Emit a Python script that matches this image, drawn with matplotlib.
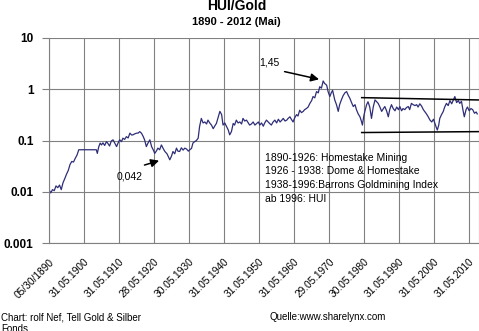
import numpy as np
import matplotlib.pyplot as plt

# HUI/Gold ratio (year, ratio)
years = [1890.0, 1890.5, 1891.0, 1891.5, 1892.0, 1892.5, 1893.0, 1893.5, 1894.0, 1894.5,
         1895.0, 1895.5, 1896.0, 1896.5, 1897.0, 1897.5, 1898.0, 1898.5, 1903.5, 1903.8,
         1904.2, 1904.6, 1905.0, 1905.4, 1905.9, 1906.4, 1906.8, 1907.3, 1907.8, 1908.3,
         1908.8, 1909.3, 1909.8, 1910.2, 1910.7, 1911.1, 1911.6, 1912.1, 1912.6, 1913.1,
         1913.6, 1914.0, 1914.5, 1915.0, 1915.5, 1915.9, 1916.4, 1916.9, 1917.3, 1917.8,
         1918.3, 1918.8, 1919.3, 1919.8, 1920.2, 1920.7, 1921.1, 1921.6, 1922.1, 1922.6,
         1923.1, 1923.7, 1924.1, 1924.5, 1925.0, 1925.4, 1925.9, 1926.4, 1926.8, 1927.3,
         1927.8, 1928.3, 1928.8, 1929.3, 1929.8, 1930.2, 1930.7, 1931.1, 1931.6, 1932.1,
         1932.6, 1933.0, 1933.5, 1934.0, 1934.5, 1935.0, 1935.4, 1935.9, 1936.4, 1936.9,
         1937.3, 1937.8, 1938.3, 1938.8, 1939.3, 1939.7, 1940.2, 1940.7, 1941.2, 1941.6,
         1942.1, 1942.6, 1943.0, 1943.5, 1944.0, 1944.5, 1945.0, 1945.4, 1945.9, 1946.4,
         1946.9, 1947.3, 1947.8, 1948.3, 1948.8, 1949.3, 1949.8, 1950.2, 1950.7, 1951.2,
         1951.6, 1952.1, 1952.6, 1953.0, 1953.5, 1954.0, 1954.5, 1955.0, 1955.5, 1956.0,
         1956.5, 1956.9, 1957.4, 1957.9, 1958.3, 1958.8, 1959.2, 1959.7, 1960.2, 1960.7,
         1961.1, 1961.6, 1962.1, 1962.6, 1963.0, 1963.5, 1964.0, 1964.5, 1965.0, 1965.4,
         1965.9, 1966.4, 1966.9, 1967.3, 1967.8, 1968.3, 1968.7, 1969.3, 1969.7, 1970.2,
         1970.6, 1971.0, 1971.6, 1972.1, 1972.6, 1973.0, 1973.5, 1974.0, 1974.5, 1975.0,
         1975.5, 1975.9, 1976.4, 1976.9, 1977.4, 1977.8, 1978.3, 1978.8, 1979.2, 1979.5,
         1979.9, 1980.2, 1980.7, 1981.1, 1981.6, 1982.1, 1982.6, 1983.1, 1983.5, 1984.0,
         1984.5, 1985.0, 1985.5, 1985.9, 1986.4, 1986.9, 1987.3, 1987.8, 1988.3, 1988.8,
         1989.3, 1989.8, 1990.2, 1990.7, 1991.1, 1991.6, 1992.1, 1992.6, 1993.0, 1993.5,
         1994.0, 1994.5, 1995.0, 1995.4, 1995.9, 1996.4, 1996.9, 1997.4, 1997.8, 1998.3,
         1998.8, 1999.3, 1999.8, 2000.2, 2000.6, 2000.9, 2001.3, 2001.6, 2002.1, 2002.6,
         2003.0, 2003.5, 2004.0, 2004.5, 2005.0, 2005.4, 2005.9, 2006.4, 2006.9, 2007.3,
         2007.8, 2008.2, 2008.6, 2009.1, 2009.5, 2010.0, 2010.5, 2011.0, 2011.5, 2012.0,
         2012.3]
ratio = [0.011, 0.0095, 0.011, 0.0105, 0.013, 0.012, 0.0135, 0.011, 0.015, 0.018,
         0.022, 0.026, 0.034, 0.039, 0.038, 0.045, 0.052, 0.066, 0.066, 0.056,
         0.075, 0.089, 0.082, 0.09, 0.08, 0.095, 0.088, 0.078, 0.098, 0.103,
         0.088, 0.076, 0.092, 0.103, 0.095, 0.111, 0.105, 0.119, 0.112, 0.139,
         0.128, 0.129, 0.135, 0.139, 0.14, 0.149, 0.139, 0.12, 0.103, 0.076,
         0.09, 0.103, 0.076, 0.065, 0.056, 0.063, 0.071, 0.066, 0.082, 0.07,
         0.061, 0.055, 0.048, 0.042, 0.05, 0.061, 0.055, 0.071, 0.062, 0.061,
         0.072, 0.065, 0.071, 0.068, 0.062, 0.066, 0.07, 0.089, 0.095, 0.1,
         0.111, 0.187, 0.27, 0.22, 0.23, 0.21, 0.25, 0.22, 0.2, 0.17,
         0.19, 0.215, 0.28, 0.37, 0.32, 0.2, 0.22, 0.187, 0.16, 0.129,
         0.149, 0.215, 0.2, 0.25, 0.22, 0.23, 0.21, 0.27, 0.24, 0.25,
         0.22, 0.2, 0.21, 0.23, 0.2, 0.215, 0.23, 0.2, 0.22, 0.19,
         0.22, 0.25, 0.23, 0.215, 0.2, 0.23, 0.25, 0.22, 0.26, 0.23,
         0.25, 0.27, 0.24, 0.25, 0.27, 0.29, 0.26, 0.23, 0.28, 0.32,
         0.3, 0.39, 0.35, 0.37, 0.4, 0.42, 0.45, 0.53, 0.6, 0.72,
         0.68, 0.9, 0.85, 1.12, 1.05, 1.45, 1.3, 1.2, 0.9, 0.72,
         0.85, 0.95, 0.62, 0.5, 0.37, 0.5, 0.62, 0.75, 0.85, 0.9,
         0.75, 0.67, 0.55, 0.46, 0.5, 0.4, 0.33, 0.29, 0.24, 0.2,
         0.3, 0.37, 0.5, 0.57, 0.45, 0.27, 0.45, 0.62, 0.58, 0.53,
         0.45, 0.37, 0.42, 0.46, 0.38, 0.29, 0.4, 0.5, 0.42, 0.38,
         0.45, 0.4, 0.46, 0.38, 0.42, 0.4, 0.44, 0.46, 0.4, 0.53,
         0.5, 0.48, 0.5, 0.45, 0.52, 0.47, 0.4, 0.36, 0.33, 0.29,
         0.25, 0.23, 0.26, 0.215, 0.18, 0.16, 0.2, 0.27, 0.32, 0.37,
         0.45, 0.53, 0.48, 0.6, 0.52, 0.6, 0.72, 0.55, 0.6, 0.53,
         0.58, 0.4, 0.29, 0.4, 0.45, 0.38, 0.42, 0.4, 0.34, 0.36,
         0.33]

# trading channel since 1980
channel_x = [1979.3, 2012.8]
channel_top = [0.686, 0.618]
channel_bottom = [0.143, 0.149]

tick_years = [1890, 1900, 1910, 1920, 1930, 1940, 1950, 1960, 1970, 1980, 1990, 2000, 2010]
tick_labels = ["05/30/1890", "31.05.1900", "31.05.1910", "28.05.1920", "30.05.1930",
               "31.05.1940", "31.05.1950", "31.05.1960", "29.05.1970", "30.05.1980",
               "31.05.1990", "31.05.2000", "31.05.2010"]
y_ticks = [0.001, 0.01, 0.1, 1, 10]
y_labels = ["0.001", "0.01", "0.1", "1", "10"]

notes = ["1890-1926: Homestake Mining",
         "1926 - 1938: Dome & Homestake",
         "1938-1996:Barrons Goldmining Index",
         "ab 1996: HUI"]

plt.rcParams['font.family'] = ['Liberation Sans', 'DejaVu Sans']

fig = plt.figure(figsize=(4.79, 3.31), dpi=100)
ax = fig.add_axes([49 / 479, 1 - 243 / 331, 430 / 479, 205 / 331])

ax.plot(years, ratio, color='#2e2e78', lw=0.9)
ax.plot(channel_x, channel_top, color='black', lw=1.1)
ax.plot(channel_x, channel_bottom, color='black', lw=1.1)

ax.set_yscale('log')
ax.set_ylim(0.001, 10)
ax.set_xlim(1890, 2012.8)
ax.set_yticks(y_ticks)
ax.set_yticklabels(y_labels, fontweight='bold', fontsize=8.5)
ax.yaxis.set_minor_locator(plt.NullLocator())
ax.set_xticks(tick_years)
ax.set_xticklabels(tick_labels, rotation=45, ha='right', va='top',
                   rotation_mode='anchor', fontsize=7.3)
ax.tick_params(axis='y', length=5, color='#808080', pad=6)
ax.tick_params(axis='x', length=0, pad=10)
ax.grid(True, color='#808080', lw=0.8)
for s in ['left', 'bottom', 'right']:
    ax.spines[s].set_color('#808080')
ax.spines['top'].set_visible(False)

ax.annotate('', xy=(1967.9, 1.52), xytext=(1956.5, 2.27),
            arrowprops=dict(arrowstyle='-|>', color='black', lw=1.1, mutation_scale=12))
ax.text(1953.0, 3.4, "1,45", fontsize=7.5, ha='center', va='center')
ax.annotate('', xy=(1922.2, 0.0419), xytext=(1916.5, 0.032),
            arrowprops=dict(arrowstyle='-|>', color='black', lw=1.1, mutation_scale=12))
ax.text(1913.1, 0.0195, "0,042", fontsize=7.5, ha='center', va='center')

ax.text(0.502, 0.44, "\n".join(notes), transform=ax.transAxes, fontsize=7.5,
        ha='left', va='top', linespacing=1.45)

fig.text(236.5 / 479, 1 - 6 / 331, "HUI/Gold", ha='center', va='center',
         fontsize=10, fontweight='bold')
fig.text(236.5 / 479, 1 - 22 / 331, "1890 - 2012 (Mai)", ha='center', va='center',
         fontsize=8, fontweight='bold')
fig.text(0.002, 1 - 312 / 331, "Chart: rolf Nef, Tell Gold & Silber\nFonds",
         ha='left', va='top', fontsize=7, linespacing=1.25)
fig.text(270 / 479, 1 - 312 / 331, "Quelle:www.sharelynx.com", ha='left', va='top', fontsize=7)

fig.savefig("out.png", dpi=100)
